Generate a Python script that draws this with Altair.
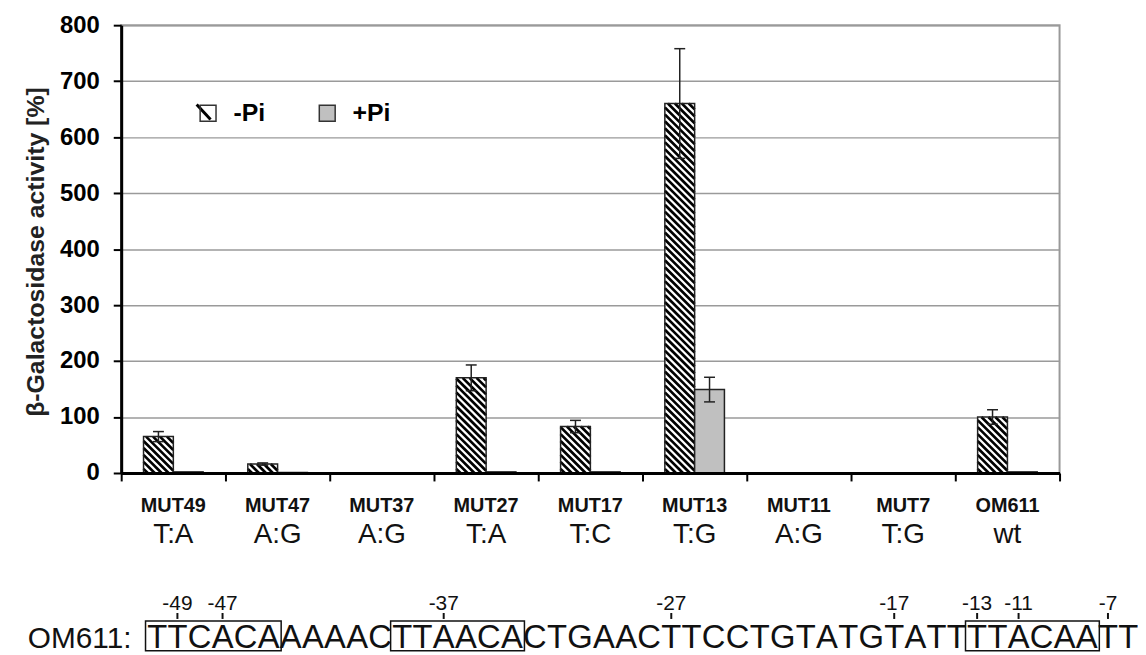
import altair as alt
import pandas as pd

# ---------------- data ----------------
categories = ["MUT49", "MUT47", "MUT37", "MUT27", "MUT17", "MUT13", "MUT11", "MUT7", "OM611"]
mutations = ["T:A", "A:G", "A:G", "T:A", "T:C", "T:G", "A:G", "T:G", "wt"]
minus_pi = [65, 16, 0.5, 170, 83, 660, 0.5, 0.5, 100]
minus_pi_err = [9, 2, 0, 23, 11, 98, 0, 0, 13]
plus_pi = [2, 1, 0.5, 2, 2, 149, 0.5, 0.5, 2]
plus_pi_err = [0, 0, 0, 0, 0, 22, 0, 0, 0]
y_ticks = [0, 100, 200, 300, 400, 500, 600, 700, 800]
series_names = ["-Pi", "+Pi"]

sequence = "TTCACAAAAACTTAACACTGAACTTCCTGTATGTATTTTACAATT"
sequence_name = "OM611:"
seq_first_pos = -50
boxed_ranges = [(-50, -45), (-39, -34), (-13, -8)]
marked_positions = [-49, -47, -37, -27, -17, -13, -11, -7]

# ---------------- layout / style ----------------
W, H = 945, 451
FONT = "Liberation Sans"
PX = W / len(categories)          # pixels per category unit
PY = H / 800.0                    # pixels per % unit
BAR = 30 / PX                     # bar width in category units
CAP = 5.5 / PX
HATCH_STEP = 7.0
SEQ_X0 = 26.0                     # px from plot left where the sequence starts
EM = 33.4                         # px per em for sequence letters
LETTER_EM = {"T": 0.611, "A": 0.667, "C": 0.722, "G": 0.778}

xscale = alt.Scale(domain=[-0.5, len(categories) - 0.5], nice=False, zero=False)
yscale = alt.Scale(domain=[0, 800], nice=False, zero=True)

# ---------------- tables built from the arrays ----------------
rows = []
for i, cat in enumerate(categories):
    rows.append({"cat": cat, "idx": i, "series": "-Pi", "value": minus_pi[i],
                 "err": minus_pi_err[i], "x0": i - BAR, "x1": i})
    rows.append({"cat": cat, "idx": i, "series": "+Pi", "value": plus_pi[i],
                 "err": plus_pi_err[i], "x0": i, "x1": i + BAR})
bars = pd.DataFrame(rows)
bars["base"] = 0.0
bars["xc"] = (bars.x0 + bars.x1) / 2
bars["lo"] = bars.value - bars.err
bars["hi"] = bars.value + bars.err
bars["cl"] = bars.xc - CAP
bars["cr"] = bars.xc + CAP

# diagonal hatching of the -Pi bars, derived from the bar rectangles
hatch = []
for r in bars[(bars.series == "-Pi") & (bars.value > 1)].itertuples():
    w = (r.x1 - r.x0) * PX
    h = r.value * PY
    c = HATCH_STEP * 0.6
    while c < w + h:
        ua, ub = max(0.0, c - h), min(w, c)
        hatch.append({"x": r.x0 + ua / PX, "y": (c - ua) / PY,
                      "x2": r.x0 + ub / PX, "y2": (c - ub) / PY})
        c += HATCH_STEP
hatch = pd.DataFrame(hatch)

labels = pd.DataFrame({"idx": list(range(len(categories))), "cat": categories, "mut": mutations})

# sequence letters placed by their advance widths
letters = []
em = 0.0
for k, ch in enumerate(sequence):
    wdt = LETTER_EM[ch]
    letters.append({"ch": ch, "pos": seq_first_pos + k, "e0": em, "e1": em + wdt})
    em += wdt
letters = pd.DataFrame(letters)
to_cat = lambda e: -0.5 + (SEQ_X0 + e * EM) / PX
letters["xc"] = to_cat((letters.e0 + letters.e1) / 2)
letters["xl"] = to_cat(letters.e0)
letters["xr"] = to_cat(letters.e1)

boxes = pd.DataFrame([
    {"x0": letters.loc[letters.pos == a, "xl"].iloc[0] - 1.5 / PX,
     "x1": letters.loc[letters.pos == b, "xr"].iloc[0] + 1.5 / PX}
    for a, b in boxed_ranges])
marks = letters[letters.pos.isin(marked_positions)].copy()
marks["label"] = marks.pos.astype(str)

# ---------------- layers ----------------
base = alt.Chart(bars)

xaxis = alt.Axis(values=[i - 0.5 for i in range(len(categories) + 1)], labels=False, title=None,
                 grid=False, domainColor="black", domainWidth=3, tickColor="black",
                 tickWidth=2, tickSize=8, zindex=1)
yaxis = alt.Axis(values=y_ticks, title="β-Galactosidase activity [%]", grid=True,
                 gridColor="#9a9a9a", gridWidth=1.5, labelFont=FONT, labelFontSize=24,
                 labelFontWeight="bold", labelColor="black", labelPadding=14,
                 tickColor="black", tickWidth=2, tickSize=8, domainColor="black",
                 domainWidth=3, titleFont=FONT, titleFontSize=25, titleFontWeight="bold",
                 titleColor="#222", titleX=-86, titleY=228, titleAngle=270,
                 titleAlign="center", titleBaseline="middle")

white = base.transform_filter("datum.series == '-Pi'").mark_rect(fill="white").encode(
    x=alt.X("x0:Q", scale=xscale, axis=xaxis), x2="x1:Q",
    y=alt.Y("value:Q", scale=yscale, axis=yaxis), y2="base:Q")

hatch_layer = alt.Chart(hatch).mark_rule(color="black", strokeWidth=2.7, strokeCap="butt").encode(
    x=alt.X("x:Q", scale=xscale), x2="x2:Q",
    y=alt.Y("y:Q", scale=yscale), y2="y2:Q")

main = base.mark_rect(stroke="#222", strokeWidth=1.5).encode(
    x=alt.X("x0:Q", scale=xscale), x2="x1:Q",
    y=alt.Y("value:Q", scale=yscale), y2="base:Q",
    fill=alt.Fill("series:N",
                  scale=alt.Scale(domain=series_names, range=["transparent", "#c0c0c0"]),
                  legend=alt.Legend(title=None, orient="none", legendX=75, legendY=76,
                                    direction="horizontal", symbolType="square",
                                    symbolSize=256, symbolStrokeColor="#333",
                                    symbolStrokeWidth=1.5, labelFont=FONT,
                                    labelFontSize=25, labelFontWeight="bold",
                                    labelColor="black", labelOffset=13,
                                    columnPadding=50, padding=0)))

err_base = base.transform_filter("datum.err > 0")
err_v = err_base.mark_rule(color="#222", strokeWidth=1.5).encode(
    x=alt.X("xc:Q", scale=xscale),
    y=alt.Y("lo:Q", scale=yscale), y2="hi:Q")
err_top = err_base.mark_rule(color="#222", strokeWidth=1.5).encode(
    x=alt.X("cl:Q", scale=xscale), x2="cr:Q",
    y=alt.Y("hi:Q", scale=yscale))
err_bot = err_base.mark_rule(color="#222", strokeWidth=1.5).encode(
    x=alt.X("cl:Q", scale=xscale), x2="cr:Q",
    y=alt.Y("lo:Q", scale=yscale))

legend_hatch = alt.Chart(pd.DataFrame({"k": [0]})).mark_rule(
    color="black", strokeWidth=3).encode(
    x=alt.value(76), x2=alt.value(90), y=alt.value(80), y2=alt.value(95))

cat_text = alt.Chart(labels).mark_text(font=FONT, fontSize=20, fontWeight="bold",
                                       baseline="middle", color="#111").encode(
    x=alt.X("idx:Q", scale=xscale), y=alt.value(484), text="cat:N")
mut_text = alt.Chart(labels).mark_text(font=FONT, fontSize=28, baseline="alphabetic",
                                       color="#111").encode(
    x=alt.X("idx:Q", scale=xscale), y=alt.value(522), text="mut:N")

seq_name = alt.Chart(pd.DataFrame({"t": [sequence_name]})).mark_text(
    font=FONT, fontSize=30, align="left", baseline="alphabetic", color="#111").encode(
    x=alt.value(-94), y=alt.value(627), text="t:N")
seq_letters = alt.Chart(letters).mark_text(font=FONT, fontSize=33, baseline="alphabetic",
                                           color="#111").encode(
    x=alt.X("xc:Q", scale=xscale), y=alt.value(627), text="ch:N")
seq_boxes = alt.Chart(boxes).mark_rect(fill="transparent", stroke="#111", strokeWidth=1.5).encode(
    x=alt.X("x0:Q", scale=xscale), x2="x1:Q",
    y=alt.value(600), y2=alt.value(630))
seq_ticks = alt.Chart(marks).mark_rule(color="#111", strokeWidth=2).encode(
    x=alt.X("xc:Q", scale=xscale), y=alt.value(592), y2=alt.value(598))
seq_labels = alt.Chart(marks).mark_text(font=FONT, fontSize=21, baseline="alphabetic",
                                        color="#111").encode(
    x=alt.X("xc:Q", scale=xscale), y=alt.value(589), text="label:N")

chart = alt.layer(
    white, hatch_layer, main, err_v, err_top, err_bot, legend_hatch,
    cat_text, mut_text, seq_name, seq_letters, seq_boxes, seq_ticks, seq_labels
).properties(
    width=W, height=H,
    padding={"left": 114, "top": 15, "right": 79, "bottom": 181},
    autosize=alt.AutoSizeParams(type="none"),
).configure_view(stroke="#999", strokeWidth=2)

chart.save("out.html", embed_options={"renderer": "svg", "actions": False})
